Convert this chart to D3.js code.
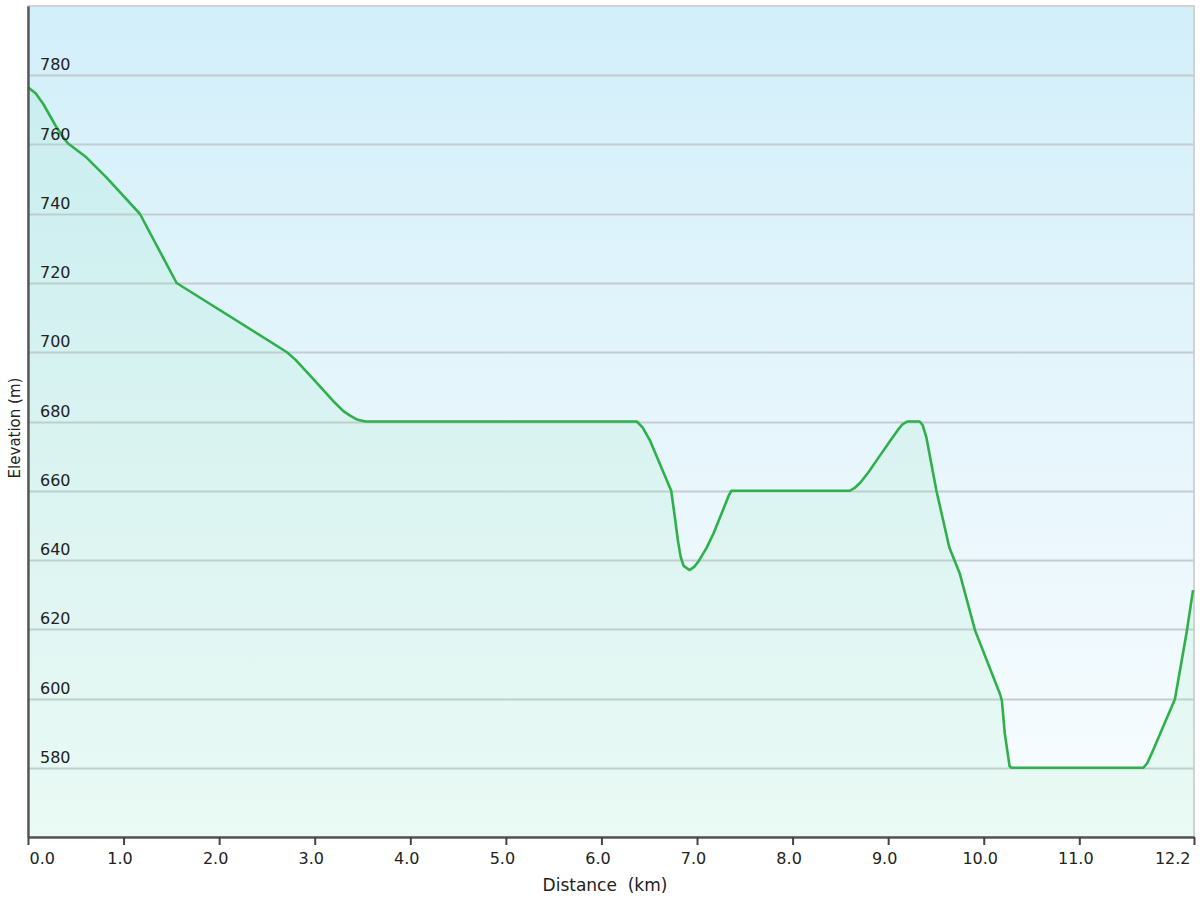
<!DOCTYPE html>
<html>
<head>
<meta charset="utf-8">
<script src="https://cdn.jsdelivr.net/npm/d3@7"></script>
<style>
  html, body { margin: 0; padding: 0; background: #ffffff; }
  svg { display: block; font-family: "DejaVu Sans", Verdana, sans-serif; }
</style>
</head>
<body>
<svg id="chart" width="1200" height="900"></svg>
<script>
// ---- data ----
const distanceKm = [0, 0.08, 0.16, 0.23, 0.30, 0.37, 0.42, 0.61, 0.82, 1.17, 1.555,
  2.71, 2.80, 2.95, 3.19, 3.30, 3.37, 3.45, 3.53,
  6.37, 6.43, 6.51, 6.73, 6.77, 6.80, 6.83, 6.86, 6.92, 6.97, 7.02, 7.10, 7.17, 7.28, 7.33, 7.36,
  8.60, 8.65, 8.71, 8.79, 8.91, 9.02, 9.10, 9.15, 9.20, 9.33, 9.36, 9.40,
  9.505, 9.64, 9.75, 9.91, 10.17, 10.19, 10.22, 10.27, 10.29,
  11.67, 11.71, 11.755, 12.0, 12.12, 12.19];
const elevationM = [776.5, 774.8, 771.7, 768.3, 764.9, 762.0, 760.3, 756.3, 750.5, 740, 720,
  700, 697.8, 693.3, 686, 683.0, 681.7, 680.5, 680,
  680, 678.3, 674.4, 660, 652, 645.6, 640.8, 638.3, 637.1, 638.0, 639.8, 643.5, 647.5, 655.0, 658.5, 660,
  660, 660.8, 662.4, 665.2, 670.0, 674.4, 677.5, 679.2, 680, 680, 679, 675.4,
  660, 643.6, 636, 619.6, 601.3, 599.4, 590, 580.5, 580,
  580, 581.3, 584, 599.8, 618.6, 631.3];
const xTickValues = [0, 1, 2, 3, 4, 5, 6, 7, 8, 9, 10, 11, 12.2];
const xTickLabels = ["0.0", "1.0", "2.0", "3.0", "4.0", "5.0", "6.0", "7.0", "8.0", "9.0", "10.0", "11.0", "12.2"];
const yTickValues = [580, 600, 620, 640, 660, 680, 700, 720, 740, 760, 780];
const xDomain = [0, 12.2];
const yDomain = [560, 800];
const xTitle = "Distance  (km)";
const yTitle = "Elevation (m)";

const data = distanceKm.map((d, i) => ({ x: d, y: elevationM[i] }));

// ---- layout ----
const plot = { left: 28, top: 6, right: 1194, bottom: 837 };
const svg = d3.select("#chart");

const x = d3.scaleLinear().domain(xDomain).range([plot.left, plot.right]);
const y = d3.scaleLinear().domain(yDomain).range([plot.bottom, plot.top]);

const defs = svg.append("defs");
const bg = defs.append("linearGradient").attr("id", "bgGrad")
  .attr("x1", 0).attr("y1", 0).attr("x2", 0).attr("y2", 1);
bg.append("stop").attr("offset", "0%").attr("stop-color", "#d2effa");
bg.append("stop").attr("offset", "55%").attr("stop-color", "#e8f6fc");
bg.append("stop").attr("offset", "100%").attr("stop-color", "#f9fdff");

const ag = defs.append("linearGradient").attr("id", "areaGrad")
  .attr("x1", 0).attr("y1", 0).attr("x2", 0).attr("y2", 1);
ag.append("stop").attr("offset", "0%").attr("stop-color", "#7fe0b0").attr("stop-opacity", 0.14);
ag.append("stop").attr("offset", "100%").attr("stop-color", "#8fe8b0").attr("stop-opacity", 0.14);

// plot background + frame
svg.append("rect")
  .attr("x", plot.left).attr("y", plot.top)
  .attr("width", plot.right - plot.left).attr("height", plot.bottom - plot.top)
  .attr("fill", "url(#bgGrad)")
  .attr("stroke", "#d2d2d2").attr("stroke-width", 2);

// gridlines
svg.append("g").selectAll("line").data(yTickValues).join("line")
  .attr("x1", plot.left).attr("x2", plot.right)
  .attr("y1", d => Math.round(y(d)) + 0.5).attr("y2", d => Math.round(y(d)) + 0.5)
  .attr("stroke", "#c3cdd1").attr("stroke-width", 2);

// area + line
const curve = d3.curveLinear;
svg.append("path").datum(data)
  .attr("d", d3.area().x(d => x(d.x)).y0(plot.bottom).y1(d => y(d.y)).curve(curve))
  .attr("fill", "url(#areaGrad)");

svg.append("path").datum(data)
  .attr("d", d3.line().x(d => x(d.x)).y(d => y(d.y)).curve(curve))
  .attr("fill", "none").attr("stroke", "#2eb04b").attr("stroke-width", 2.6)
  .attr("stroke-linejoin", "round");

// y tick labels (inside plot, above gridline)
svg.append("g").selectAll("text").data(yTickValues).join("text")
  .attr("x", 40).attr("y", d => y(d) - 5)
  .attr("font-size", 16).attr("fill", "#222")
  .text(d => d);

// x axis
const xAxis = d3.axisBottom(x).tickValues(xTickValues)
  .tickFormat((d, i) => xTickLabels[i]).tickSize(8).tickSizeOuter(0);
const gx = svg.append("g").attr("transform", `translate(0,${plot.bottom})`).call(xAxis);
gx.select(".domain").attr("stroke", "#555").attr("stroke-width", 2.4);
gx.selectAll(".tick line").attr("stroke", "#444").attr("stroke-width", 2);
gx.selectAll(".tick text")
  .attr("font-size", 16).attr("fill", "#222")
  .attr("font-family", "DejaVu Sans, Verdana, sans-serif")
  .attr("y", 16).attr("dy", "0.71em")
  .attr("text-anchor", (d, i) => i === 0 ? "start" : (i === xTickValues.length - 1 ? "end" : "middle"))
  .attr("x", (d, i) => i === 0 ? 1 : -4);

// y axis line
const yAxis = d3.axisLeft(y).tickValues([]).tickSizeOuter(0);
const gy = svg.append("g").attr("transform", `translate(${plot.left},0)`).call(yAxis);
gy.select(".domain").attr("stroke", "#555").attr("stroke-width", 2.4);

// axis titles
svg.append("text")
  .attr("x", 605).attr("y", 891)
  .attr("text-anchor", "middle").attr("font-size", 17).attr("fill", "#222")
  .style("white-space", "pre").attr("xml:space", "preserve")
  .text(xTitle);

svg.append("text")
  .attr("transform", `translate(20,428) rotate(-90)`)
  .attr("text-anchor", "middle").attr("font-size", 15).attr("fill", "#222")
  .text(yTitle);
</script>
</body>
</html>
